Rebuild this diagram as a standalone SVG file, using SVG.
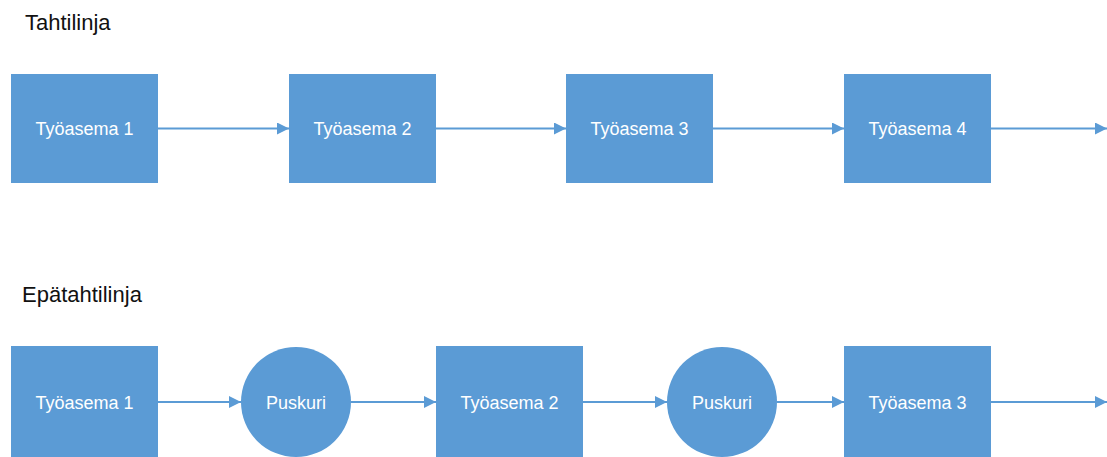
<svg xmlns="http://www.w3.org/2000/svg" width="1107" height="457" viewBox="0 0 1107 457">
<style>
.box{fill:#5B9BD5;}
.lbl{font-family:"Liberation Sans",Arial,sans-serif;font-size:18px;fill:#ffffff;text-anchor:middle;}
.title{font-family:"Liberation Sans",Arial,sans-serif;font-size:22px;fill:#111111;}
.conn{stroke:#5B9BD5;stroke-width:2;fill:none;marker-end:url(#ah);}
</style>
<defs>
<marker id="ah" markerWidth="12" markerHeight="12" refX="12" refY="6" orient="auto" markerUnits="userSpaceOnUse">
<path d="M0,0 L12,6 L0,12 Z" fill="#5B9BD5"/>
</marker>
</defs>
<rect width="1107" height="457" fill="#ffffff"/>
<text class="title" x="25" y="30">Tahtilinja</text>
<text class="title" x="22" y="302">Epätahtilinja</text>
<g id="t1"><rect class="box" x="11" y="74" width="147" height="109"/><text class="lbl" x="84.5" y="135">Työasema 1</text></g>
<g id="t2"><rect class="box" x="289" y="74" width="147" height="109"/><text class="lbl" x="362.5" y="135">Työasema 2</text></g>
<g id="t3"><rect class="box" x="566" y="74" width="147" height="109"/><text class="lbl" x="639.5" y="135">Työasema 3</text></g>
<g id="t4"><rect class="box" x="844" y="74" width="147" height="109"/><text class="lbl" x="917.5" y="135">Työasema 4</text></g>
<g id="b1"><rect class="box" x="11" y="346" width="147" height="120"/><text class="lbl" x="84.5" y="409">Työasema 1</text></g>
<g id="p1"><circle class="box" cx="296" cy="402" r="55"/><text class="lbl" x="296" y="409">Puskuri</text></g>
<g id="b2"><rect class="box" x="436" y="346" width="147" height="120"/><text class="lbl" x="509.5" y="409">Työasema 2</text></g>
<g id="p2"><circle class="box" cx="722" cy="402" r="55"/><text class="lbl" x="722" y="409">Puskuri</text></g>
<g id="b3"><rect class="box" x="844" y="346" width="147" height="120"/><text class="lbl" x="917.5" y="409">Työasema 3</text></g>
<g id="connectors">
<line class="conn" x1="158" y1="128.5" x2="289" y2="128.5"/>
<line class="conn" x1="436" y1="128.5" x2="566" y2="128.5"/>
<line class="conn" x1="713" y1="128.5" x2="844" y2="128.5"/>
<line class="conn" x1="991" y1="128.5" x2="1107" y2="128.5"/>
<line class="conn" x1="158" y1="402" x2="241" y2="402"/>
<line class="conn" x1="351" y1="402" x2="436" y2="402"/>
<line class="conn" x1="583" y1="402" x2="667" y2="402"/>
<line class="conn" x1="777" y1="402" x2="844" y2="402"/>
<line class="conn" x1="991" y1="402" x2="1107" y2="402"/>
</g>
</svg>
